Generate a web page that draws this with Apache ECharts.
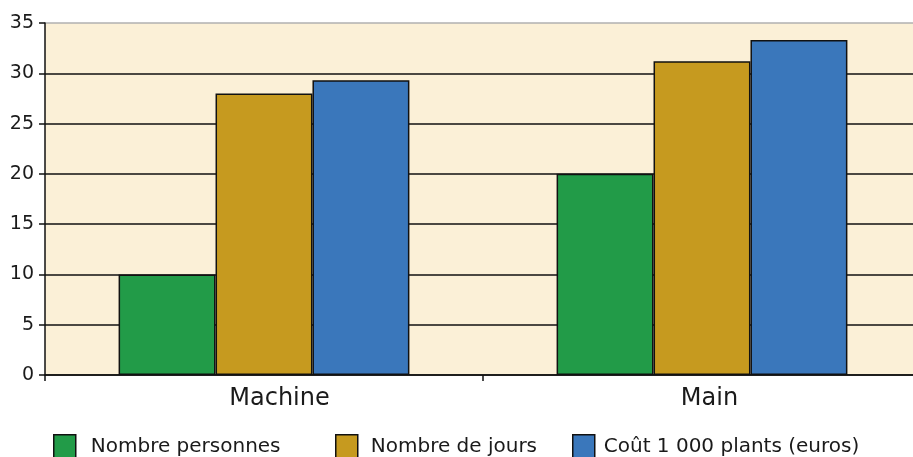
<!DOCTYPE html>
<html>
<head>
<meta charset="utf-8">
<script src="https://cdn.jsdelivr.net/npm/echarts@6/dist/echarts.min.js"></script>
<style>
html,body{margin:0;padding:0;background:#fff;overflow:hidden;}
#chart{width:921px;height:457px;}
</style>
</head>
<body>
<div id="chart"></div>
<script>
var categories = ['Machine', 'Main'];
var seriesNames = ['Nombre personnes', 'Nombre de jours', 'Coût 1 000 plants (euros)'];
var personnes = [10, 20];
var jours = [28.0, 31.2];
var cout = [29.3, 33.3];
var colors = ['#229b48', '#c69a1f', '#3a77bb'];

// le graphique d'origine est coupé à droite : le conteneur dépasse un peu la fenêtre
var chart = echarts.init(document.getElementById('chart'));
var font = 'DejaVu Sans, sans-serif';

function bar(name, data, color) {
	return {
		name: name,
		type: 'bar',
		data: data,
		barGap: '0%',
		barCategoryGap: '33.6%',
		itemStyle: { color: color, borderColor: '#111', borderWidth: 1.5 }
	};
}

// une légende par série pour placer chaque entrée comme sur l'image
function legend(idx, left, gap) {
	return {
		data: [seriesNames[idx]],
		left: left,
		top: 434,
		padding: 0,
		itemWidth: 22,
		itemHeight: 24,
		itemGap: 0,
		icon: 'rect',
		textStyle: { fontFamily: font, fontSize: 20, color: '#1a1a1a', padding: [0, 0, 0, gap] },
		itemStyle: { borderColor: '#111', borderWidth: 1.5 }
	};
}

chart.setOption({
	animation: false,
	backgroundColor: '#fff',
	legend: [legend(0, 53, 10), legend(1, 335, 8), legend(2, 572, 4)],
	grid: {
		left: 45,
		top: 23,
		right: 0,
		height: 352,
		show: true,
		backgroundColor: '#fbf0d7',
		borderWidth: 0
	},
	xAxis: {
		type: 'category',
		data: categories,
		axisLine: { lineStyle: { color: '#111', width: 1.5 } },
		axisTick: { show: true, length: 6, lineStyle: { color: '#111', width: 1.5 } },
		axisLabel: {
			fontFamily: font, fontSize: 24, color: '#1a1a1a', margin: 12,
			// les libellés sont un peu décalés vers la droite sur l'original
			formatter: function (v, i) { return '{c' + i + '|' + v + '}'; },
			rich: {
				c0: { fontFamily: font, fontSize: 24, color: '#1a1a1a', padding: [0, 0, 0, 31] },
				c1: { fontFamily: font, fontSize: 24, color: '#1a1a1a', padding: [0, 0, 0, 15] }
			}
		}
	},
	yAxis: {
		type: 'value',
		min: 0,
		max: 35,
		interval: 5,
		axisLine: { show: true, lineStyle: { color: '#111', width: 1.5 } },
		axisTick: { show: true, length: 6, lineStyle: { color: '#111', width: 1.5 } },
		axisLabel: { fontFamily: font, fontSize: 19, color: '#1a1a1a', margin: 11 },
		splitLine: {
			show: true,
			lineStyle: {
				color: ['#111', '#111', '#111', '#111', '#111', '#111', '#111', '#b0b0b0'],
				width: 1.5
			}
		}
	},
	series: [
		bar(seriesNames[0], personnes, colors[0]),
		bar(seriesNames[1], jours, colors[1]),
		bar(seriesNames[2], cout, colors[2])
	]
});
</script>
</body>
</html>
